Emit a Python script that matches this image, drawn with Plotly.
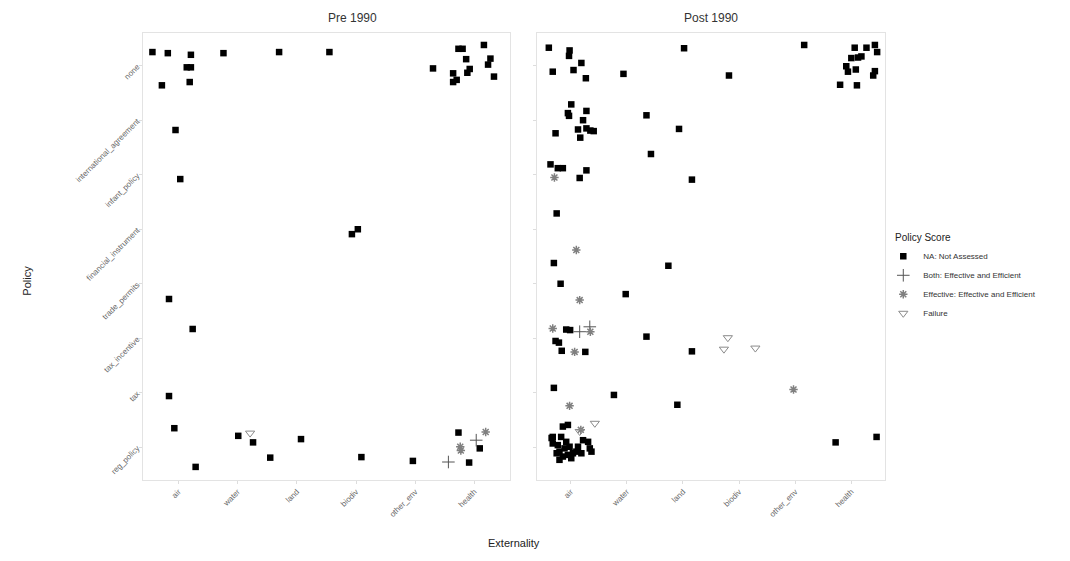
import plotly.graph_objects as go
from plotly.subplots import make_subplots

externality = ["air", "water", "land", "biodiv", "other_env", "health"]
policy = ["reg_policy", "tax", "tax_incentive", "trade_permits",
          "financial_instrument", "infant_policy", "international_agreement", "none"]
scores = ["NA: Not Assessed", "Both: Effective and Efficient",
          "Effective: Effective and Efficient", "Failure"]

# jittered positions (category units)
pre_na_x = [-0.44, -0.18, 0.21, 0.14, 0.21, 0.19, -0.28, 0.76, 1.70, 2.55, 4.30, 4.73, 4.80,
            5.16, 4.86, 5.27, 5.23, 4.92, 4.88, 4.64, 4.70, 4.64, 5.33,
            -0.05, 0.03, 2.93, 3.03, -0.16, 0.24, -0.16,
            -0.07, 0.29, 1.01, 1.26, 1.55, 2.07, 3.09, 3.96, 4.73, 5.09, 4.91]
pre_na_y = [7.25, 7.23, 7.20, 6.97, 6.97, 6.70, 6.64, 7.23, 7.25, 7.25, 6.95, 7.31, 7.31,
            7.38, 7.12, 7.13, 7.02, 6.94, 6.87, 6.86, 6.74, 6.70, 6.80,
            5.82, 4.92, 3.91, 4.00, 2.72, 2.17, 0.94,
            0.35, -0.36, 0.21, 0.09, -0.19, 0.15, -0.18, -0.25, 0.27, -0.02, -0.28]
pre_both_x = [4.56, 5.03]
pre_both_y = [-0.27, 0.13]
pre_eff_x = [4.76, 4.77, 5.19]
pre_eff_y = [0.01, -0.06, 0.28]
pre_fail_x = [1.21]
pre_fail_y = [0.26]

post_na_x = [-0.39, -0.02, -0.03, 0.19, -0.32, 0.05, 0.27, 0.94, 2.02, 2.82, 4.16,
             5.06, 5.27, 5.42, 5.46, 5.12, 5.18, 5.00, 4.91, 4.94, 5.08, 5.42, 5.39, 4.80, 5.10,
             0.01, -0.05, -0.03, 0.28, 0.22, 0.13, 0.28, 0.35, 0.41, 0.17, -0.27, 1.35, 1.93,
             -0.36, -0.23, -0.14, 0.28, 0.16, 1.43, 2.16,
             -0.25, -0.30, 1.74, -0.18, 0.98,
             -0.08, -0.01, -0.27, -0.21, -0.16, 0.26, 1.35, 2.16,
             -0.30, 0.77, 1.90,
             4.72, 5.45,
             -0.14, -0.05, -0.34, -0.32, -0.17, -0.08, -0.02, -0.25, -0.20, -0.14, -0.05, 0.04,
             0.10, 0.22, 0.31, 0.34, 0.37, -0.32, -0.23, -0.11, 0.13, 0.19, 0.01, -0.20]
post_na_y = [7.33, 7.28, 7.18, 7.05, 6.89, 6.92, 6.77, 6.85, 7.32, 6.82, 7.38,
             7.33, 7.33, 7.38, 7.25, 7.15, 7.17, 7.14, 6.99, 6.89, 6.93, 6.90, 6.82, 6.65, 6.64,
             6.29, 6.13, 6.08, 6.17, 6.00, 5.83, 5.85, 5.81, 5.80, 5.68, 5.76, 6.09, 5.84,
             5.19, 5.12, 5.12, 5.08, 4.94, 5.38, 4.91,
             4.29, 3.38, 3.33, 3.00, 2.81,
             2.16, 2.15, 1.95, 1.92, 1.77, 1.75, 2.03, 1.76,
             1.09, 0.96, 0.78,
             0.09, 0.19,
             0.38, 0.41, 0.17, 0.07, 0.19, 0.10, 0.01, -0.11, -0.23, -0.17, -0.14, -0.11,
             -0.08, 0.13, 0.10, -0.02, -0.08, 0.19, 0.04, -0.02, 0.01, -0.11, -0.20, -0.08]
post_both_x = [0.16, 0.34]
post_both_y = [2.12, 2.21]
post_eff_x = [-0.29, 0.10, 0.16, -0.32, 0.35, 0.07, -0.02, 3.97, 0.18]
post_eff_y = [4.95, 3.62, 2.70, 2.18, 2.12, 1.75, 0.76, 1.06, 0.32]
post_fail_x = [2.80, 2.73, 3.29, 0.43, 0.16]
post_fail_y = [2.01, 1.80, 1.82, 0.44, 0.29]

styles = {
    scores[0]: dict(symbol="square", size=6.5, color="#000000", line=dict(width=0)),
    scores[1]: dict(symbol="cross-thin-open", size=9, color="#555555", line=dict(width=1, color="#555555")),
    scores[2]: dict(symbol="asterisk-open", size=7, color="#808080", line=dict(width=1.5, color="#808080")),
    scores[3]: dict(symbol="triangle-down-open", size=8, color="#8a8a8a", line=dict(width=1, color="#8a8a8a")),
}

fig = make_subplots(rows=1, cols=2, shared_yaxes=True, horizontal_spacing=0.03)

panels = [
    (1, [(pre_na_x, pre_na_y), (pre_both_x, pre_both_y), (pre_eff_x, pre_eff_y), (pre_fail_x, pre_fail_y)]),
    (2, [(post_na_x, post_na_y), (post_both_x, post_both_y), (post_eff_x, post_eff_y), (post_fail_x, post_fail_y)]),
]
for col, series in panels:
    for s, (xs, ys) in zip(scores, series):
        fig.add_trace(go.Scatter(x=xs, y=ys, mode="markers", name=s, legendgroup=s,
                                 showlegend=(col == 1), marker=styles[s]), row=1, col=col)

tickfont = dict(family="Liberation Sans, Arial", size=8, color="#666666")
axis_common = dict(showgrid=False, zeroline=False, showline=True, mirror=True,
                   linecolor="#e3e3e3", linewidth=1, ticks="outside", ticklen=3,
                   tickcolor="#dddddd", tickfont=tickfont, tickangle=-45)

fig.update_xaxes(**axis_common, tickmode="array", tickvals=list(range(len(externality))),
                 ticktext=externality, range=[-0.6, len(externality) - 0.4])
fig.update_yaxes(**axis_common, tickmode="array", tickvals=list(range(len(policy))),
                 ticktext=policy, range=[-0.6, len(policy) - 0.4])
fig.update_xaxes(domain=[0.1336, 0.4766], row=1, col=1)
fig.update_xaxes(domain=[0.5019, 0.8271], row=1, col=2)
fig.update_yaxes(domain=[0.1444, 0.9412])
fig.update_yaxes(showticklabels=False, row=1, col=2)

titlefont = dict(family="Liberation Sans, Arial", size=12, color="#333333")
fig.add_annotation(text="Pre 1990", x=0.3051, y=0.968, xref="paper", yref="paper",
                   showarrow=False, font=titlefont, yanchor="middle")
fig.add_annotation(text="Post 1990", x=0.6645, y=0.968, xref="paper", yref="paper",
                   showarrow=False, font=titlefont, yanchor="middle")
fig.add_annotation(text="Externality", x=0.4803, y=0.018, xref="paper", yref="paper",
                   showarrow=False, font=dict(family="Liberation Sans, Arial", size=11, color="#222222"))
fig.add_annotation(text="Policy", x=0.017, y=0.5, xref="paper", yref="paper", textangle=-90,
                   showarrow=False, font=dict(family="Liberation Sans, Arial", size=11, color="#222222"))
# legend title
fig.add_annotation(text="Policy Score", x=893 / 1070, y=1 - 237 / 561, xref="paper", yref="paper",
                   xanchor="left", yanchor="middle", showarrow=False,
                   font=dict(family="Liberation Sans, Arial", size=10, color="#222222"))

fig.update_layout(
    width=1070, height=561,
    margin=dict(l=0, r=0, t=0, b=0),
    paper_bgcolor="white", plot_bgcolor="white",
    legend=dict(x=0.8255, y=0.569, xanchor="left", yanchor="top",
                bgcolor="rgba(0,0,0,0)",
                font=dict(family="Liberation Sans, Arial", size=8, color="#333333"),
                tracegroupgap=0, itemwidth=30),
)

fig.write_html("out.html")
